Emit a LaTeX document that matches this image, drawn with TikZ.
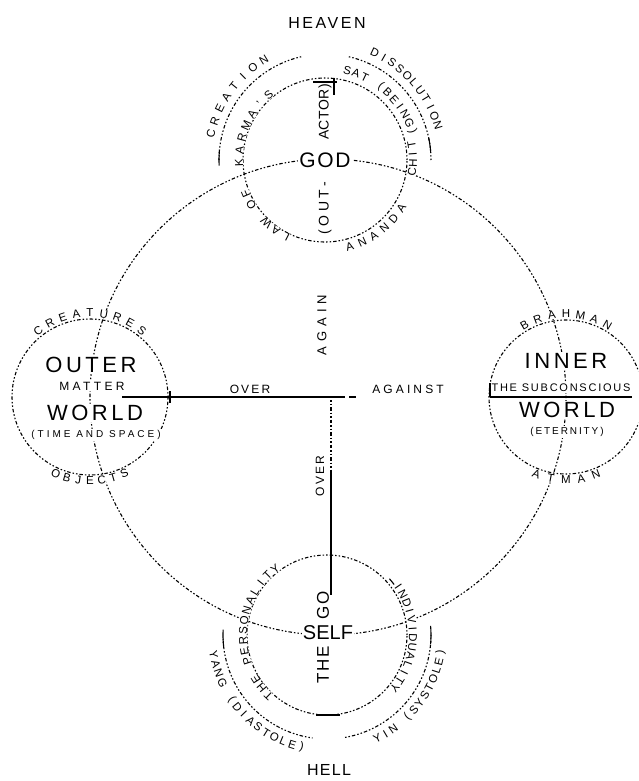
\documentclass[tikz,border=0pt]{standalone}
\usepackage{fontspec}
\setmainfont{Liberation Sans}
\usetikzlibrary{calc}

\tikzset{
  ring/.style={line width=1.1pt, dash pattern=on 1.5pt off 2pt on 1.5pt off 2pt on 3.5pt off 2pt},
  tick/.style={line width=1.1pt},
  axis/.style={line width=1.2pt},
  word/.style 2 args={font=\fontsize{#1}{#1}\selectfont\addfontfeatures{LetterSpace=#2}, fill=white, inner sep=1pt},
  arcchar/.style={font=\fontsize{11.5}{11.5}\selectfont, fill=white, inner sep=0pt},
}

% letters set round a circle: name, centre, radius, first angle, step, letters
\newcommand{\arcup}[6]{% clockwise, tops outward
  \foreach \lab [count=\nn from 0] in {#6}
    \node[arcchar, rotate={#4-\nn*#5-90}] (#1\nn) at ($(#2)+({#4-\nn*#5}:#3)$) {\lab};}
\newcommand{\arcdown}[6]{% anticlockwise, tops inward
  \foreach \lab [count=\nn from 0] in {#6}
    \node[arcchar, rotate={#4+\nn*#5+90}] (#1\nn) at ($(#2)+({#4+\nn*#5}:#3)$) {\lab};}

\begin{document}
\begin{tikzpicture}[x=1pt, y=1pt]
    \useasboundingbox (0,0) rectangle (638,-781);
    \clip (0,0) rectangle (638,-781);
    \coordinate (c) at (328,-397);
    \coordinate (g) at (325,-160);
    \coordinate (o) at (90,-397);
    \coordinate (i) at (566,-397);
    \coordinate (s) at (327,-635);

    % circles and the outer arcs
    \draw[ring] (c) circle (238pt);
    \draw[ring] (g) circle (82pt);
    \draw[ring] (o) circle (78pt);
    \draw[ring] (i) circle (77pt);
    \draw[ring] (s) circle (80pt);
    \draw[ring] ($(g)+(180:106)$) arc[start angle=180, end angle=103, radius=106pt];
    \draw[ring] ($(g)+(77:106)$) arc[start angle=77, end angle=0, radius=106pt];
    \draw[ring] ($(s)+(182:104)$) arc[start angle=182, end angle=262, radius=104pt];
    \draw[ring] ($(s)+(280:104)$) arc[start angle=280, end angle=360, radius=104pt];
    \draw[tick] ($(g)+(175:106)$) arc[start angle=175, end angle=183, radius=106pt];
    \draw[tick] ($(g)+(12:106)$) arc[start angle=12, end angle=5, radius=106pt];
    \draw[tick] ($(s)+(177:104)$) arc[start angle=177, end angle=186, radius=104pt];
    \draw[tick] ($(s)+(5:104)$) arc[start angle=5, end angle=-5, radius=104pt];
    \draw[tick] ($(s)+(42:84)$) arc[start angle=42, end angle=37, radius=84pt];

    % texts on the rings
    \arcup{crt}{o}{84}{128}{9.5}{C,R,E,A,T,U,R,E,S}
    \arcdown{obj}{o}{84}{246}{8}{O,B,J,E,C,T,S}
    \arcup{brh}{i}{83}{120}{10}{B,R,A,H,M,A,N}
    \arcdown{atm}{i}{83}{249}{10.5}{A,T,M,A,N}
    \arcup{law}{g}{86}{243}{8}{L,A,W,{},O,F}
    \arcup{kar}{g}{86}{182}{8.5}{K,A,R,M,A,',S}
    \arcup{sat}{g}{92}{76}{5.8}{S,A,T,{},{(},B,E,I,N,G,{)}}
    \arcdown{cht}{g}{88}{-8}{6}{C,H,I,T}
    \arcdown{ana}{g}{90}{-74}{8.4}{A,N,A,N,D,A}
    \arcup{cre}{g}{117}{167}{6.5}{C,R,E,A,T,I,O,N}
    \arcup{dis}{g}{118}{65}{4.8}{D,I,S,S,O,L,U,T,I,O,N}
    \arcup{per}{s}{84}{226}{7}{T,H,E,{},P,E,R,S,O,N,A,L,I,T,Y}
    \arcup{ind}{s}{86}{34}{6}{I,N,D,I,V,I,D,U,A,L,I,T,Y}
    \arcdown{yng}{s}{115}{190}{4.8}{Y,A,N,G,{},{(},D,I,A,S,T,O,L,E,{)}}
    \arcdown{yin}{s}{115}{296}{4.6}{Y,I,N,{},{(},S,Y,S,T,O,L,E,{)}}

    % words
    \node[word={16}{16}] (heaven) at (327,-23) {HEAVEN};
    \node[word={16}{8}] (hell) at (329,-770) {HELL};
    \node[word={21}{8}] (godw) at (g) {GOD};
    \node[word={14}{25}, rotate=90, anchor=east] (outw) at (325,-181) {(OUT-};
    \node[word={14}{3}, rotate=90, anchor=west] (actw) at (325,-141) {ACTOR)};
    \node[word={20}{0}] (selfw) at (328,-633) {SELF};
    \node[word={17}{10}, rotate=90, anchor=east] (thew) at (323,-645) {THE};
    \node[word={17}{10}, rotate=90, anchor=west] (egow) at (323,-621) {GO};
    \node[word={22}{16}] (outer) at (91,-365) {OUTER};
    \node[word={12}{28}] (matter) at (92,-386) {MATTER};
    \node[word={22}{16}] (oworld) at (95,-413) {WORLD};
    \node[word={10}{30}] (time) at (96,-435) {(TIME AND SPACE)};
    \node[word={22}{16}] (inner) at (566,-361) {INNER};
    \node[word={11}{16}] (subc) at (561,-388) {THE SUBCONSCIOUS};
    \node[word={22}{16}] (iworld) at (567,-410) {WORLD};
    \node[word={10}{19}] (etern) at (567,-432) {(ETERNITY)};
    \node[word={12}{18}] (overh) at (250,-389) {OVER};
    \node[word={12}{26}] (against) at (408,-389) {AGAINST};
    \node[word={13}{38}, rotate=90] (again) at (322,-325) {AGAIN};
    \node[word={12}{18}, rotate=90] (overv) at (320,-476) {OVER};

    % axes
    \coordinate (hl) at (122,-397);
    \coordinate (hr) at (345,-397);
    \coordinate (vt) at (331,-400);
    \coordinate (vm) at (331,-470);
    \coordinate (vb) at (331,-595);
    \draw[axis] (hl) -- (hr);
    \draw[axis] (170,-391) -- (170,-403);
    \draw[axis] (349,-397) -- (356,-397);
    \draw[axis] (490,-397) -- (632,-397);
    \draw[axis] (490,-383) -- (490,-397);
    \draw[ring] (vt) -- (vm);
    \draw[axis] (vm) -- (vb);
    \draw[axis] (313,-82) -- (337,-82);
    \draw[axis] (334,-78) -- (334,-95);
    \draw[axis] (316,-715) -- (340,-715);
\end{tikzpicture}
\end{document}
